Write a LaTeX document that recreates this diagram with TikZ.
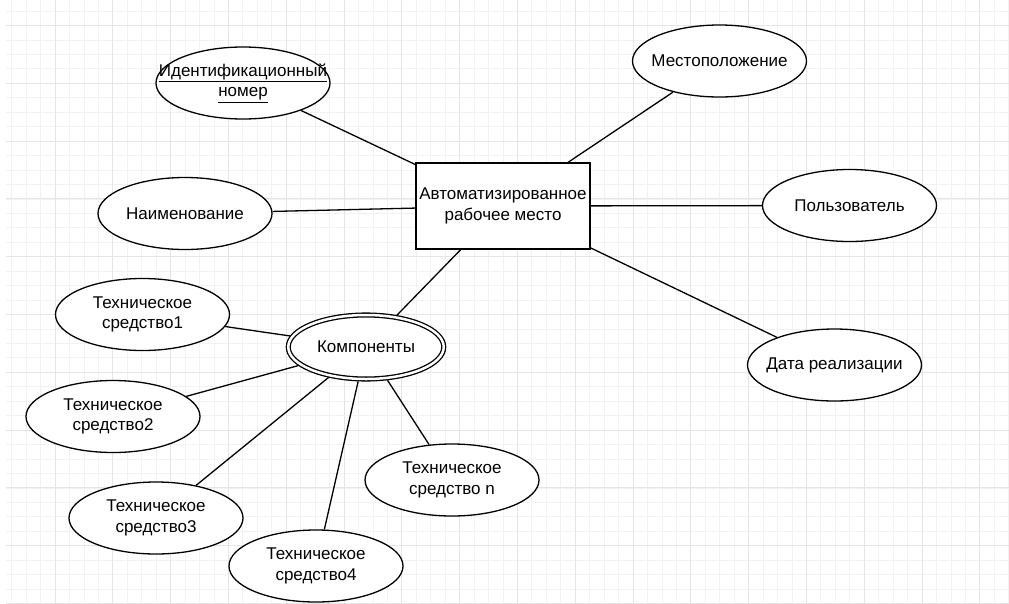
\documentclass[tikz,border=0pt]{standalone}
\usepackage{fontspec}
\setmainfont{Liberation Sans}
\usetikzlibrary{shapes.geometric}

\tikzset{
  minorgrid/.style={draw=black!5, line width=0.8pt},
  majorgrid/.style={draw=black!10, line width=0.9pt},
  attr/.style={ellipse, draw, line width=1.3pt, fill=white,
    minimum width=174pt, minimum height=72pt,
    inner xsep=-50pt, inner ysep=-12pt, align=center,
    font=\fontsize{17}{20.5}\selectfont},
  entity/.style={rectangle, draw, line width=1.3pt, fill=white,
    minimum width=174pt, minimum height=86pt, inner sep=0pt, align=center,
    font=\fontsize{17}{20.5}\selectfont},
  multi/.style={ellipse, draw, line width=1.3pt, double=white, double distance=2.5pt,
    fill=white, minimum width=155.5pt, minimum height=64pt,
    inner xsep=-30pt, inner ysep=-5pt, outer sep=2.55pt,
    font=\fontsize{17}{20.5}\selectfont},
  link/.style={draw, line width=1.3pt}
}

\begin{document}
\begin{tikzpicture}[x=1pt, y=-1pt]
\useasboundingbox (0,0) rectangle (1009,603);
\fill[white] (0,0) rectangle (1009,603);

% background grid
\begin{scope}
  \clip (6,0) rectangle (1009,603);
  \foreach \i in {0,...,70} {
    \pgfmathsetmacro\xx{-2.8+14.45*\i}
    \draw[minorgrid] (\xx,0) -- (\xx,603);
  }
  \foreach \i in {0,...,44} {
    \pgfmathsetmacro\yy{-32.3+14.45*\i}
    \draw[minorgrid] (0,\yy) -- (1009,\yy);
  }
  \foreach \i in {0,...,18} {
    \pgfmathsetmacro\xx{-2.8+57.8*\i}
    \draw[majorgrid] (\xx,0) -- (\xx,603);
  }
  \foreach \i in {0,...,11} {
    \pgfmathsetmacro\yy{-32.3+57.8*\i}
    \draw[majorgrid] (0,\yy) -- (1009,\yy);
  }
\end{scope}

% entity and its attributes
\node[entity] (arm) at (503,206) {Автоматизированное\\рабочее место};
\node[attr] (id) at (243,83) {\underline{Идентификационный}\\\underline{номер}};
\node[attr] (name) at (185,213.5) {Наименование};
\node[attr] (loc) at (719.5,61) {Местоположение};
\node[attr] (user) at (849.5,205.5) {Пользователь};
\node[attr] (date) at (834.5,365) {Дата реализации};
\node[multi] (comp) at (366,347) {Компоненты};

% components
\node[attr] (t1) at (142.5,314.5) {Техническое\\средство1};
\node[attr] (t2) at (113,416.5) {Техническое\\средство2};
\node[attr] (t3) at (156,518) {Техническое\\средство3};
\node[attr] (t4) at (316,566) {Техническое\\средство4};
\node[attr] (tn) at (452,480) {Техническое\\средство n};

% connectors
\draw[link] (id) -- (arm);
\draw[link] (name) -- (arm);
\draw[link] (loc) -- (arm);
\draw[link] (user) -- (arm);
\draw[link] (date) -- (arm);
\draw[link] (comp) -- (arm);
\draw[link] (t1) -- (comp);
\draw[link] (t2) -- (comp);
\draw[link] (t3) -- (comp);
\draw[link] (t4) -- (comp);
\draw[link] (tn) -- (comp);
\end{tikzpicture}
\end{document}
